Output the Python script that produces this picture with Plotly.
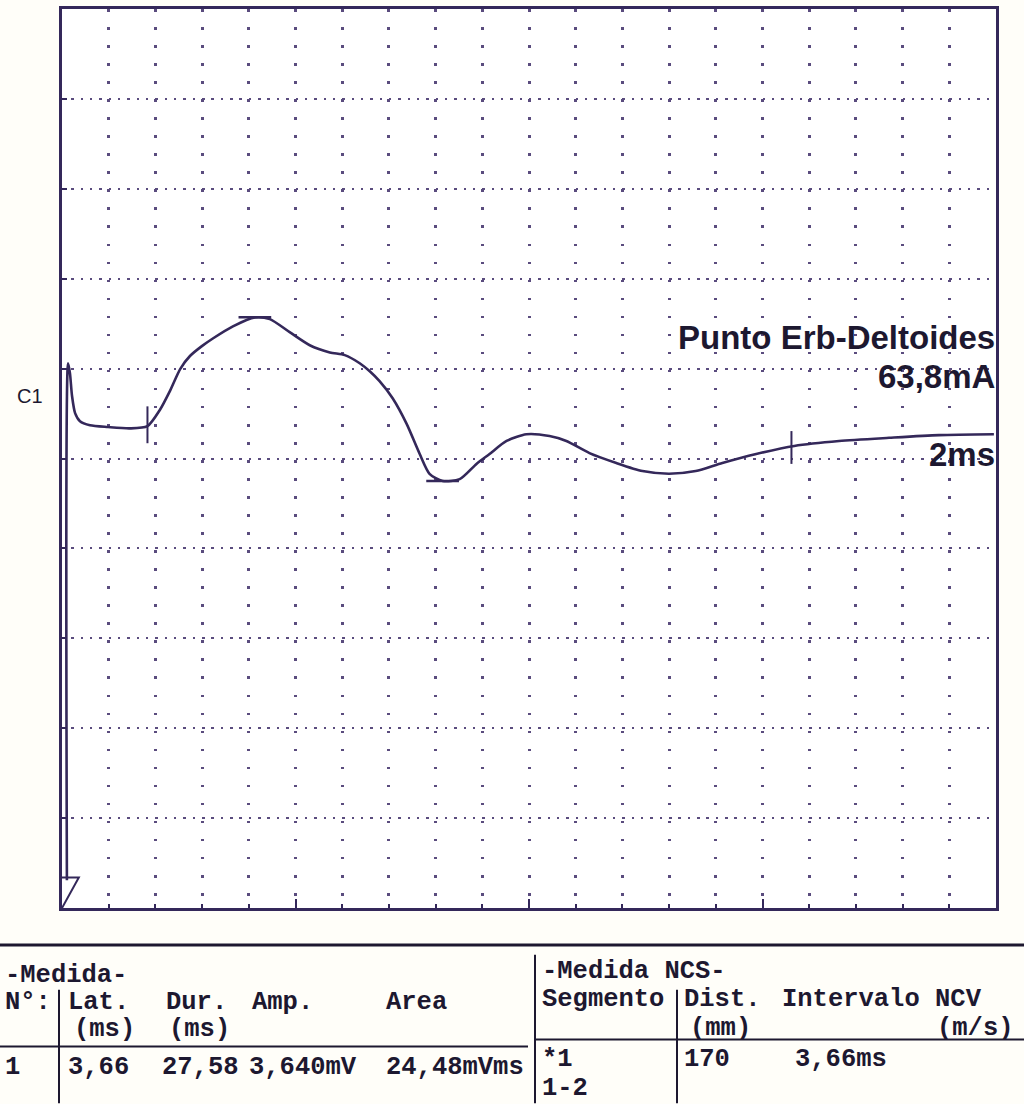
import plotly.graph_objects as go

# ---------------- data ----------------
TIME_MS = [0.21, 0.26, 0.34, 0.43, 0.56, 0.77, 1.20, 1.97, 2.91, 3.66, 4.19, 4.62,
           5.06, 5.48, 5.99, 6.46, 7.32, 8.26, 8.90, 9.75, 10.61, 11.47, 12.11, 12.75,
           13.18, 13.60, 14.16, 14.76, 15.32, 15.74, 16.30, 17.03, 17.75, 18.31,
           19.04, 19.89, 20.88, 21.60, 22.59, 23.74, 24.86, 25.99, 27.14, 28.28,
           29.73, 31.36, 33.28, 35.42, 37.56, 39.91]
AMP_MV = [-9.38, 2.12, 1.90, 1.39, 1.01, 0.83, 0.74, 0.70, 0.67, 0.72, 1.08, 1.50,
          1.99, 2.28, 2.50, 2.67, 2.94, 3.14, 3.10, 2.81, 2.52, 2.36, 2.30, 2.12,
          1.94, 1.72, 1.34, 0.77, 0.10, -0.34, -0.50, -0.46, -0.12, 0.10,
          0.39, 0.54, 0.50, 0.39, 0.12, -0.10, -0.28, -0.34, -0.28, -0.10,
          0.10, 0.28, 0.39, 0.46, 0.52, 0.54]

LAT_MS = 3.66
DUR_MS = 27.58

X_RANGE = [0, 40]       # 2 ms / division
Y_RANGE = [-10, 10]     # 2 mV / major division

TITLE_LINES = ["Punto Erb-Deltoides", "63,8mA", "2ms"]
CHANNEL = "C1"

# table texts
T1_TITLE = "-Medida-"
T1_HEAD = ["N°:", "Lat.", "Dur.", "Amp.", "Area"]
T1_UNITS = ["(ms)", "(ms)"]
T1_ROW = ["1", "3,66", "27,58", "3,640mV", "24,48mVms"]
T2_TITLE = "-Medida NCS-"
T2_HEAD = ["Segmento", "Dist.", "Intervalo NCV"]
T2_UNITS = ["(mm)", "(m/s)"]
T2_ROW1 = ["*1", "170", "3,66ms"]
T2_ROW2 = ["1-2"]

# ---------------- layout geometry ----------------
W, H = 1024, 1104
ML, MR, MT, MB = 62, 28, 6, 196
PW, PH = W - ML - MR, H - MT - MB

INK = "#34285a"
DOT = "#5a4c7e"
TXT = "#1d1830"


def px(x):
    return (x - ML) / PW


def py(y):
    return (H - MB - y) / PH


fig = go.Figure()

fig.add_trace(go.Scatter(
    x=TIME_MS, y=AMP_MV, mode="lines",
    line=dict(color=INK, width=2.6, shape="spline", smoothing=0.7),
    hoverinfo="skip", showlegend=False))

# cursors
pk = max(range(len(AMP_MV)), key=lambda i: AMP_MV[i])
tr = min(range(len(AMP_MV)), key=lambda i: AMP_MV[i] if TIME_MS[i] > LAT_MS else 99)
shapes = [
    dict(type="line", xref="x", yref="y", x0=LAT_MS, x1=LAT_MS, y0=0.34, y1=1.16,
         line=dict(color=INK, width=2)),
    dict(type="line", xref="x", yref="y", x0=LAT_MS + DUR_MS, x1=LAT_MS + DUR_MS,
         y0=-0.12, y1=0.61, line=dict(color=INK, width=2)),
    dict(type="line", xref="x", yref="y", x0=TIME_MS[pk] - 0.7, x1=TIME_MS[pk] + 0.7,
         y0=AMP_MV[pk], y1=AMP_MV[pk], line=dict(color=INK, width=2.5)),
    dict(type="line", xref="x", yref="y", x0=TIME_MS[tr] - 0.7, x1=TIME_MS[tr] + 0.7,
         y0=AMP_MV[tr], y1=AMP_MV[tr], line=dict(color=INK, width=2.5)),
    # stimulus flag at bottom-left
    dict(type="path", xref="x", yref="y",
         path=f"M {X_RANGE[0]},{Y_RANGE[0] + 0.68} L {X_RANGE[0] + 0.72},{Y_RANGE[0] + 0.68} L {X_RANGE[0]},{Y_RANGE[0]}",
         line=dict(color=INK, width=2)),
]

# table rules
shapes += [
    dict(type="line", xref="paper", yref="paper", x0=px(0), x1=px(1024), y0=py(945), y1=py(945),
         line=dict(color=TXT, width=3)),
    dict(type="line", xref="paper", yref="paper", x0=px(59), x1=px(59), y0=py(990), y1=py(1104),
         line=dict(color=TXT, width=2)),
    dict(type="line", xref="paper", yref="paper", x0=px(0), x1=px(528), y0=py(1047), y1=py(1047),
         line=dict(color=TXT, width=2)),
    dict(type="line", xref="paper", yref="paper", x0=px(535), x1=px(535), y0=py(955), y1=py(1104),
         line=dict(color=TXT, width=2)),
    dict(type="line", xref="paper", yref="paper", x0=px(677), x1=px(677), y0=py(990), y1=py(1104),
         line=dict(color=TXT, width=2)),
    dict(type="line", xref="paper", yref="paper", x0=px(535), x1=px(1024), y0=py(1040), y1=py(1040),
         line=dict(color=TXT, width=2)),
]

ann = []
big = dict(family="Liberation Sans, Arial", size=33, color=TXT, weight="bold")
for txt, yy in zip(TITLE_LINES, [336, 375, 453]):
    ann.append(dict(text=txt, x=px(997), y=py(yy), xref="paper", yref="paper",
                    xanchor="right", yanchor="middle", showarrow=False, font=big))
ann.append(dict(text=CHANNEL, x=px(30), y=py(394), xref="paper", yref="paper",
                xanchor="center", yanchor="middle", showarrow=False,
                font=dict(family="Liberation Sans, Arial", size=20, color=TXT)))

mono = dict(family="Liberation Mono, Courier New", size=25.5, color=TXT, weight="bold")


def t(text, x, y):
    ann.append(dict(text=text, x=px(x), y=py(y), xref="paper", yref="paper",
                    xanchor="left", yanchor="middle", showarrow=False, font=mono))


t(T1_TITLE, 3, 976)
for s, x in zip(T1_HEAD, [3, 66, 164, 250, 384]):
    t(s, x, 1003)
for s, x in zip(T1_UNITS, [72, 167]):
    t(s, x, 1030)
for s, x in zip(T1_ROW, [3, 66, 160, 247, 384]):
    t(s, x, 1068)

t(T2_TITLE, 540, 972)
for s, x in zip(T2_HEAD, [540, 682, 780]):
    t(s, x, 1000)
for s, x in zip(T2_UNITS, [688, 935]):
    t(s, x, 1029)
for s, x in zip(T2_ROW1, [540, 682, 793]):
    t(s, x, 1060)
for s, x in zip(T2_ROW2, [540], ):
    t(s, x, 1089)

minor_x = (X_RANGE[1] - X_RANGE[0]) / 20
minor_y_px = PH / 50
xdot_px = PW / 100
DW = 2.6

fig.update_layout(
    width=W, height=H,
    margin=dict(l=ML, r=MR, t=MT, b=MB),
    paper_bgcolor="#fffef9", plot_bgcolor="#ffffff",
    shapes=shapes, annotations=ann, showlegend=False,
    xaxis=dict(range=X_RANGE, dtick=10, tick0=0, showticklabels=False,
               ticks="inside", ticklen=9, tickwidth=2, tickcolor=INK,
               showgrid=True, gridcolor=DOT, gridwidth=DW,
               griddash=f"{DW}px,{minor_y_px - DW:.3f}px",
               minor=dict(dtick=minor_x, tick0=0, showgrid=True, gridcolor=DOT, gridwidth=DW,
                          griddash=f"{DW}px,{minor_y_px - DW:.3f}px",
                          ticks="inside", ticklen=4, tickwidth=2, tickcolor=INK),
               showline=True, linecolor=INK, linewidth=2.5, mirror=True, zeroline=False),
    yaxis=dict(range=Y_RANGE, dtick=2, tick0=0, showticklabels=False,
               ticks="inside", ticklen=5, tickwidth=2, tickcolor=INK,
               showgrid=True, gridcolor=DOT, gridwidth=2.4,
               griddash=f"2.4px,{xdot_px - 2.4:.3f}px",
               showline=True, linecolor=INK, linewidth=2.5, mirror=True, zeroline=False),
)

fig.write_html("out.html", config={"displayModeBar": False},
               post_script="document.body.style.margin='0px';")
